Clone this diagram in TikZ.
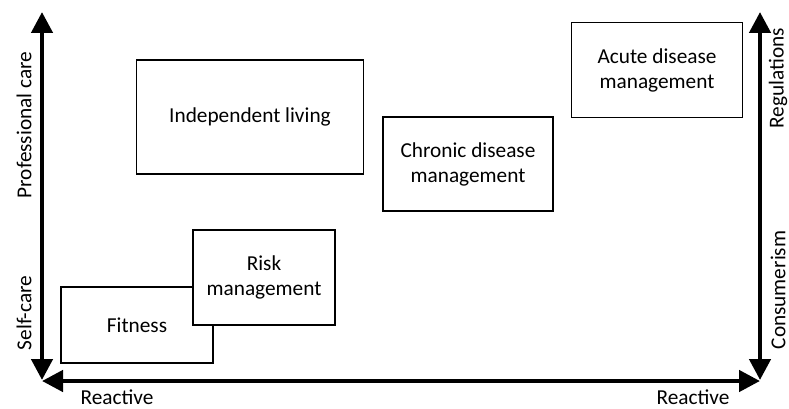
\documentclass[tikz,border=0pt]{standalone}
\usepackage{fontspec}
\setmainfont{Carlito}
\usetikzlibrary{arrows.meta}
\begin{document}
\begin{tikzpicture}[x=1pt,y=-1pt,
  font=\fontsize{21.3}{25}\selectfont,
  area/.style={draw=black,line width=1.6pt,fill=white,align=center,inner sep=0pt},
  axis/.style={line width=4.5pt,{Triangle[width=21pt,length=21pt]}-{Triangle[width=21pt,length=21pt]}},
  axislabel/.style={inner sep=0pt}]
  \useasboundingbox (0,0) rectangle (789,409);

  % axis end points
  \coordinate (lt) at (42,12);
  \coordinate (lb) at (42,380);
  \coordinate (rt) at (760,12);
  \coordinate (rb) at (760,380);
  \coordinate (bl) at (42,381);
  \coordinate (br) at (760,381);

  % application areas
  \node[area,minimum width=152pt,minimum height=76pt] (fit) at (137,325) {Fitness};
  \node[area,minimum width=142pt,minimum height=95pt] (risk) at (264,277.5) {Risk\\management};
  \node[area,minimum width=227pt,minimum height=114pt] (indep) at (250,117) {Independent living};
  \node[area,minimum width=170pt,minimum height=94pt] (chron) at (468,164) {Chronic disease\\management};
  \node[area,minimum width=171pt,minimum height=95pt] (acute) at (657,70) {Acute disease\\management};

  % axes
  \draw[axis] (lt) -- (lb);
  \draw[axis] (rt) -- (rb);
  \draw[axis] (bl) -- (br);

  % axis labels
  \node[axislabel,rotate=90] (prof) at (24,125) {Professional care};
  \node[axislabel,rotate=90] (self) at (24,313) {Self-care};
  \node[axislabel,rotate=90] (reg) at (778,78) {Regulations};
  \node[axislabel,rotate=90] (cons) at (778,290) {Consumerism};
  \node[axislabel] (reacl) at (117,397.5) {Reactive};
  \node[axislabel] (reacr) at (693,397.5) {Reactive};
\end{tikzpicture}
\end{document}
